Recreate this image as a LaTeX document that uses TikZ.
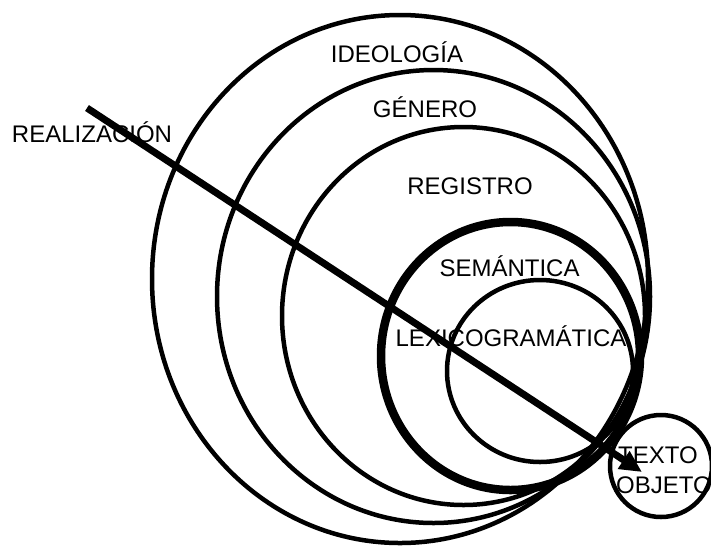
\documentclass[tikz,border=0pt]{standalone}
\usepackage{fontspec}
\setmainfont{Liberation Sans}
\usetikzlibrary{arrows.meta}
\begin{document}
\begin{tikzpicture}[x=1pt,y=-1pt,
  thinring/.style={draw=black,line width=4.5pt},
  thickring/.style={draw=black,line width=8.5pt},
  lbl/.style={inner sep=0pt,anchor=base,font=\fontsize{24}{28}\selectfont},
  realarrow/.style={draw=black,line width=7pt,-{Triangle[length=22pt,width=20pt]}}]
\useasboundingbox (0,0) rectangle (711,547);
% rings
\draw[thinring] (400,279) ellipse [x radius=248pt, y radius=264pt];
\draw[thinring] (433.5,296.5) ellipse [x radius=216.5pt, y radius=226.5pt];
\draw[thinring] (463.5,316) ellipse [x radius=181.5pt, y radius=189pt];
\draw[thickring] (510.5,356) ellipse [x radius=129.5pt, y radius=134pt];
\draw[thinring] (540,371) ellipse [x radius=93pt, y radius=91pt];
\draw[thinring] (661,466) circle [radius=51pt];
% labels
\node[lbl] (ideo) at (397,62) {IDEOLOGÍA};
\node[lbl] (gen) at (425,117) {GÉNERO};
\node[lbl] (reg) at (470,194) {REGISTRO};
\node[lbl] (sem) at (509.5,276) {SEMÁNTICA};
\node[lbl] (lex) at (511,346) {LEXICOGRAMÁTICA};
\node[lbl] (real) at (92,142) {REALIZACIÓN};
\node[lbl] (texto) at (658,463) {TEXTO};
\node[lbl] (objeto) at (664,493) {OBJETO};
% arrow
\coordinate (start) at (87,108);
\coordinate (tip) at (642,472);
\draw[realarrow] (start) -- (tip);
\end{tikzpicture}
\end{document}
